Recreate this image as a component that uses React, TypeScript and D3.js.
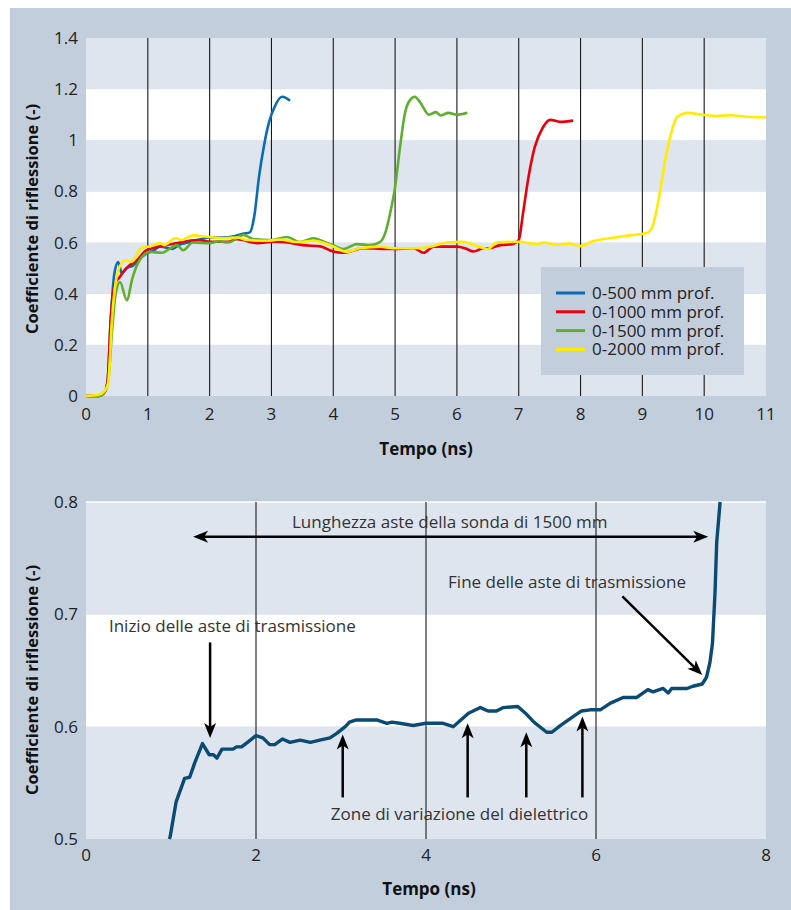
import * as d3 from 'd3';
import React, { useEffect, useRef } from 'react';

// ---- top chart: reflection coefficient vs time, four probe depths ----
const topTicksX = [0, 1, 2, 3, 4, 5, 6, 7, 8, 9, 10, 11];
const topTicksY = [0, 0.2, 0.4, 0.6, 0.8, 1, 1.2, 1.4];
const seriesNames = ['0-500 mm prof.', '0-1000 mm prof.', '0-1500 mm prof.', '0-2000 mm prof.'];
const seriesColors = ['#0a6cb4', '#e8000d', '#5fae2e', '#ffec00'];

const s500: [number, number][] = [
  [0, 0], [0.2, 0], [0.3, 0.015], [0.35, 0.06], [0.4, 0.3], [0.46, 0.48], [0.52, 0.524],
  [0.58, 0.48], [0.66, 0.5], [0.76, 0.51], [0.88, 0.54], [1.0, 0.56], [1.1, 0.57],
  [1.2, 0.585], [1.3, 0.58], [1.4, 0.575], [1.5, 0.59], [1.65, 0.6], [1.8, 0.61],
  [2.0, 0.62], [2.2, 0.62], [2.4, 0.625], [2.55, 0.635], [2.65, 0.64], [2.72, 0.7],
  [2.8, 0.86], [2.88, 0.98], [2.96, 1.07], [3.05, 1.13], [3.17, 1.17], [3.24, 1.165], [3.3, 1.155],
];

const s1000: [number, number][] = [
  [0, 0], [0.2, 0], [0.3, 0.015], [0.35, 0.06], [0.4, 0.3], [0.47, 0.44], [0.55, 0.466],
  [0.6, 0.485], [0.7, 0.51], [0.82, 0.53], [0.98, 0.57], [1.2, 0.585], [1.47, 0.598],
  [1.79, 0.61], [2.06, 0.603], [2.3, 0.603], [2.44, 0.613], [2.77, 0.598], [3.03, 0.603],
  [3.26, 0.6], [3.51, 0.59], [3.79, 0.585], [4.0, 0.565], [4.16, 0.56], [4.49, 0.578],
  [4.97, 0.575], [5.3, 0.578], [5.46, 0.56], [5.62, 0.584], [6.0, 0.584], [6.13, 0.578],
  [6.27, 0.565], [6.43, 0.578], [6.53, 0.578], [6.7, 0.59], [6.9, 0.594], [7.0, 0.61],
  [7.07, 0.715], [7.15, 0.845], [7.26, 0.974], [7.39, 1.05], [7.51, 1.08], [7.67, 1.072], [7.88, 1.077],
];

const s1500: [number, number][] = [
  [0, 0], [0.2, 0], [0.3, 0.015], [0.36, 0.06], [0.42, 0.25], [0.48, 0.4], [0.55, 0.446],
  [0.66, 0.375], [0.75, 0.46], [0.85, 0.524], [1.03, 0.563], [1.23, 0.56], [1.35, 0.575],
  [1.47, 0.59], [1.57, 0.57], [1.73, 0.6], [2.0, 0.598], [2.15, 0.605], [2.3, 0.6],
  [2.55, 0.63], [2.7, 0.614], [3.0, 0.61], [3.25, 0.622], [3.46, 0.602], [3.68, 0.617],
  [3.9, 0.598], [4.0, 0.59], [4.16, 0.575], [4.38, 0.594], [4.6, 0.59], [4.76, 0.603],
  [4.84, 0.637], [4.92, 0.715], [5.0, 0.817], [5.08, 0.974], [5.16, 1.107], [5.24, 1.157],
  [5.32, 1.17], [5.4, 1.15], [5.55, 1.1], [5.66, 1.11], [5.74, 1.097], [5.86, 1.107],
  [6.0, 1.1], [6.17, 1.108],
];

const s2000: [number, number][] = [
  [0, 0], [0.2, 0.005], [0.3, 0.02], [0.36, 0.05], [0.42, 0.3], [0.52, 0.49], [0.63, 0.53],
  [0.74, 0.525], [0.9, 0.58], [1.03, 0.585], [1.2, 0.598], [1.27, 0.59], [1.44, 0.617],
  [1.55, 0.61], [1.73, 0.628], [1.95, 0.623], [2.22, 0.617], [2.45, 0.62], [2.6, 0.61],
  [2.92, 0.607], [3.14, 0.612], [3.4, 0.602], [3.68, 0.607], [4.0, 0.585], [4.22, 0.563],
  [4.43, 0.578], [4.76, 0.584], [4.97, 0.578], [5.27, 0.578], [5.57, 0.584], [5.84, 0.6],
  [6.1, 0.603], [6.35, 0.584], [6.5, 0.575], [6.64, 0.6], [7.0, 0.603], [7.3, 0.594],
  [7.4, 0.6], [7.6, 0.592], [7.82, 0.596], [7.99, 0.586], [8.2, 0.605], [8.56, 0.62],
  [8.8, 0.628], [9.07, 0.637], [9.16, 0.66], [9.24, 0.74], [9.4, 0.96], [9.56, 1.09],
  [9.74, 1.107], [9.98, 1.1], [10.2, 1.095], [10.42, 1.098], [10.7, 1.092], [11, 1.09],
];

// ---- bottom chart: 1500 mm probe detail ----
const botTicksX = [0, 2, 4, 6, 8];
const botTicksY = [0.5, 0.6, 0.7, 0.8];
const probe1500: [number, number][] = [
  [0.98, 0.5], [0.99, 0.502], [1.06, 0.533], [1.16, 0.554], [1.22, 0.555], [1.28, 0.568],
  [1.37, 0.585], [1.45, 0.575], [1.5, 0.575], [1.54, 0.572], [1.6, 0.58], [1.73, 0.58],
  [1.77, 0.582], [1.83, 0.582], [1.9, 0.586], [2.0, 0.592], [2.08, 0.59], [2.16, 0.584],
  [2.22, 0.584], [2.31, 0.589], [2.4, 0.586], [2.52, 0.588], [2.64, 0.586], [2.75, 0.588],
  [2.87, 0.59], [2.95, 0.594], [3.05, 0.6], [3.1, 0.604], [3.18, 0.606], [3.3, 0.606],
  [3.42, 0.606], [3.54, 0.603], [3.6, 0.604], [3.69, 0.603], [3.85, 0.601], [4.0, 0.603],
  [4.2, 0.603], [4.32, 0.6], [4.5, 0.612], [4.64, 0.617], [4.73, 0.614], [4.83, 0.614],
  [4.91, 0.617], [5.08, 0.618], [5.17, 0.612], [5.27, 0.604], [5.42, 0.595], [5.48, 0.595],
  [5.58, 0.601], [5.73, 0.609], [5.83, 0.614], [5.93, 0.615], [6.05, 0.615], [6.17, 0.621],
  [6.32, 0.626], [6.48, 0.626], [6.61, 0.633], [6.67, 0.631], [6.79, 0.634], [6.85, 0.63],
  [6.89, 0.634], [7.07, 0.634], [7.14, 0.636], [7.25, 0.638], [7.3, 0.644], [7.34, 0.657],
  [7.37, 0.674], [7.4, 0.719], [7.42, 0.764], [7.46, 0.8],
];

// annotations in data units of the bottom chart
const spanArrow = { t0: 1.26, t1: 7.32, v: 0.769 };
const spanLabel = { text: 'Lunghezza aste della sonda di 1500 mm', t: 4.28, v: 0.777 };
const startLabel = { text: 'Inizio delle aste di trasmissione', t: 0.27, v: 0.684 };
const startArrow = { t0: 1.46, v0: 0.675, t1: 1.46, v1: 0.59 };
const endLabel = { text: 'Fine delle aste di trasmissione', t: 4.26, v: 0.723 };
const endArrow = { t0: 6.31, v0: 0.716, t1: 7.25, v1: 0.646 };
const zoneLabel = { text: 'Zone di variazione del dielettrico', t: 2.88, v: 0.517 };
const zoneArrowT = [3.02, 4.49, 5.18, 5.84];
const zoneArrowTip = [0.593, 0.603, 0.595, 0.609];
const zoneArrowBase = 0.537;

const FONT = '"Open Sans", "Noto Sans", sans-serif';
const BG = '#c2cedc';
const BAND = '#dfe5ee';

function App() {
  const ref = useRef<SVGSVGElement>(null);

  useEffect(() => {
    const svg = d3.select(ref.current);
    svg.selectAll('*').remove();

    svg.append('rect').attr('x', 10).attr('y', 8).attr('width', 781).attr('height', 902).attr('fill', BG);

    // ---------- top chart ----------
    const x = d3.scaleLinear().domain([0, 11]).range([86, 766]);
    const y = d3.scaleLinear().domain([0, 1.4]).range([396, 38]);
    const top = svg.append('g');

    top.selectAll('rect.band')
      .data(d3.range(7))
      .enter()
      .append('rect')
      .attr('x', x(0))
      .attr('width', x(11) - x(0))
      .attr('y', (i) => y((i + 1) * 0.2))
      .attr('height', (i) => y(i * 0.2) - y((i + 1) * 0.2))
      .attr('fill', (i) => (i % 2 === 0 ? BAND : '#ffffff'));

    top.selectAll('line.grid')
      .data(topTicksX.slice(1, -1))
      .enter()
      .append('line')
      .attr('x1', (d) => x(d)).attr('x2', (d) => x(d))
      .attr('y1', y(1.4)).attr('y2', y(0))
      .attr('stroke', '#1a1a1a').attr('stroke-width', 1.1);

    top.selectAll('text.ytick')
      .data(topTicksY)
      .enter()
      .append('text')
      .attr('x', 78)
      .attr('y', (d) => y(d) + 6)
      .attr('text-anchor', 'end')
      .attr('font-family', FONT).attr('font-size', 17).attr('fill', '#222')
      .text((d) => String(+d.toFixed(1)));

    top.selectAll('text.xtick')
      .data(topTicksX)
      .enter()
      .append('text')
      .attr('x', (d) => x(d))
      .attr('y', 420)
      .attr('text-anchor', 'middle')
      .attr('font-family', FONT).attr('font-size', 17).attr('fill', '#222')
      .text((d) => d);

    const lineTop = d3.line<[number, number]>()
      .x((d) => x(d[0]))
      .y((d) => y(d[1]))
      .curve(d3.curveMonotoneX);

    [s500, s1000, s1500, s2000].forEach((s, i) => {
      top.append('path')
        .attr('d', lineTop(s))
        .attr('fill', 'none')
        .attr('stroke', seriesColors[i])
        .attr('stroke-width', 2.6)
        .attr('stroke-linejoin', 'round');
    });

    // legend
    const lg = top.append('g').attr('transform', 'translate(541,267)');
    lg.append('rect').attr('width', 203).attr('height', 108).attr('fill', BG);
    seriesNames.forEach((name, i) => {
      const yy = 26 + i * 18.8;
      lg.append('line')
        .attr('x1', 15).attr('x2', 44).attr('y1', yy).attr('y2', yy)
        .attr('stroke', seriesColors[i]).attr('stroke-width', 3);
      lg.append('text')
        .attr('x', 51).attr('y', yy + 6)
        .attr('font-family', FONT).attr('font-size', 17).attr('fill', '#222')
        .text(name);
    });

    top.append('text')
      .attr('transform', 'translate(38,219) rotate(-90)')
      .attr('text-anchor', 'middle')
      .attr('font-family', FONT).attr('font-size', 16.5).attr('font-weight', 'bold').attr('fill', '#111')
      .text('Coefficiente di riflessione (-)');

    top.append('text')
      .attr('x', 426).attr('y', 455)
      .attr('text-anchor', 'middle')
      .attr('font-family', FONT).attr('font-size', 17).attr('font-weight', 'bold').attr('fill', '#111')
      .text('Tempo (ns)');

    // ---------- bottom chart ----------
    const xb = d3.scaleLinear().domain([0, 8]).range([86, 766]);
    const yb = d3.scaleLinear().domain([0.5, 0.8]).range([839, 502]);
    const bot = svg.append('g');

    bot.selectAll('rect.band')
      .data(d3.range(3))
      .enter()
      .append('rect')
      .attr('x', xb(0))
      .attr('width', xb(8) - xb(0))
      .attr('y', (i) => yb(0.5 + (i + 1) * 0.1))
      .attr('height', (i) => yb(0.5 + i * 0.1) - yb(0.5 + (i + 1) * 0.1))
      .attr('fill', (i) => (i % 2 === 0 ? BAND : '#ffffff'));

    bot.append('line')
      .attr('x1', xb(0)).attr('x2', xb(8)).attr('y1', yb(0.8)).attr('y2', yb(0.8))
      .attr('stroke', '#ffffff').attr('stroke-width', 1.5);

    bot.selectAll('line.grid')
      .data(botTicksX.slice(1, -1))
      .enter()
      .append('line')
      .attr('x1', (d) => xb(d)).attr('x2', (d) => xb(d))
      .attr('y1', yb(0.8)).attr('y2', yb(0.5))
      .attr('stroke', '#1a1a1a').attr('stroke-width', 1.1);

    bot.selectAll('text.ytick')
      .data(botTicksY)
      .enter()
      .append('text')
      .attr('x', 78)
      .attr('y', (d) => yb(d) + 6)
      .attr('text-anchor', 'end')
      .attr('font-family', FONT).attr('font-size', 17).attr('fill', '#222')
      .text((d) => d.toFixed(1));

    bot.selectAll('text.xtick')
      .data(botTicksX)
      .enter()
      .append('text')
      .attr('x', (d) => xb(d))
      .attr('y', 861)
      .attr('text-anchor', 'middle')
      .attr('font-family', FONT).attr('font-size', 17).attr('fill', '#222')
      .text((d) => d);

    const lineBot = d3.line<[number, number]>()
      .x((d) => xb(d[0]))
      .y((d) => yb(d[1]));

    bot.append('path')
      .attr('d', lineBot(probe1500))
      .attr('fill', 'none')
      .attr('stroke', '#0b4a73')
      .attr('stroke-width', 3.4)
      .attr('stroke-linejoin', 'round');

    // arrows
    const head = (g: any, x1: number, y1: number, x2: number, y2: number) => {
      const a = Math.atan2(y2 - y1, x2 - x1);
      const L = 15, w = 6;
      const bx = x2 - L * Math.cos(a), by = y2 - L * Math.sin(a);
      const px = -Math.sin(a) * w, py = Math.cos(a) * w;
      const nx = x2 - (L - 4) * Math.cos(a), ny = y2 - (L - 4) * Math.sin(a);
      g.append('path')
        .attr('d', `M${x2},${y2}L${bx + px},${by + py}L${nx},${ny}L${bx - px},${by - py}Z`)
        .attr('fill', '#000');
    };
    const arrow = (x1: number, y1: number, x2: number, y2: number, both = false) => {
      const a = Math.atan2(y2 - y1, x2 - x1);
      const g = bot.append('g');
      g.append('line')
        .attr('x1', both ? x1 + 8 * Math.cos(a) : x1).attr('y1', both ? y1 + 8 * Math.sin(a) : y1)
        .attr('x2', x2 - 8 * Math.cos(a)).attr('y2', y2 - 8 * Math.sin(a))
        .attr('stroke', '#000').attr('stroke-width', 2.5);
      head(g, x1, y1, x2, y2);
      if (both) head(g, x2, y2, x1, y1);
    };

    arrow(xb(spanArrow.t0), yb(spanArrow.v), xb(spanArrow.t1), yb(spanArrow.v), true);
    arrow(xb(startArrow.t0), yb(startArrow.v0), xb(startArrow.t1), yb(startArrow.v1));
    arrow(xb(endArrow.t0), yb(endArrow.v0), xb(endArrow.t1), yb(endArrow.v1));
    zoneArrowT.forEach((t, i) => {
      arrow(xb(t), yb(zoneArrowBase), xb(t), yb(zoneArrowTip[i]));
    });

    bot.append('text')
      .attr('x', xb(spanLabel.t)).attr('y', yb(spanLabel.v))
      .attr('text-anchor', 'middle')
      .attr('font-family', FONT).attr('font-size', 17).attr('fill', '#333')
      .text(spanLabel.text);
    [startLabel, endLabel, zoneLabel].forEach((l) => {
      bot.append('text')
        .attr('x', xb(l.t)).attr('y', yb(l.v))
        .attr('font-family', FONT).attr('font-size', 17).attr('fill', '#333')
        .text(l.text);
    });

    bot.append('text')
      .attr('transform', 'translate(38,680) rotate(-90)')
      .attr('text-anchor', 'middle')
      .attr('font-family', FONT).attr('font-size', 16.5).attr('font-weight', 'bold').attr('fill', '#111')
      .text('Coefficiente di riflessione (-)');

    bot.append('text')
      .attr('x', 429).attr('y', 895)
      .attr('text-anchor', 'middle')
      .attr('font-family', FONT).attr('font-size', 17).attr('font-weight', 'bold').attr('fill', '#111')
      .text('Tempo (ns)');
  }, []);

  return (
    <svg
      ref={ref}
      width={791}
      height={910}
      style={{ position: 'absolute', left: 0, top: 0, display: 'block', background: '#fff' }}
    />
  );
}

export default App;
